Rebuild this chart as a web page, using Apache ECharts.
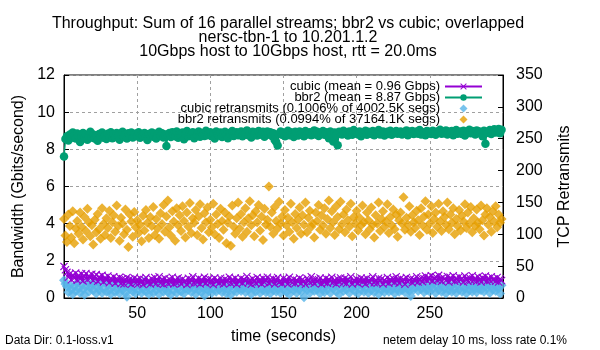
<!DOCTYPE html>
<html lang="en" style="height: 100%">
<head>
  <meta charset="utf-8">
</head>
<body style="height: 100%; margin: 0; background: #fff">
  <div id="container" style="width: 600px; height: 350px"></div>

  <script type="text/javascript" src="https://cdn.jsdelivr.net/npm/echarts@6.0.0/dist/echarts.min.js"></script>
  <script type="text/javascript">
// throughput (Gbps), one sample per second
var cubicGbps = [
  1.70,1.52,1.38,1.12,1.30,0.98,1.24,1.06,1.34,0.96, 1.22,1.02,1.30,0.92,1.18,1.32,0.98,1.20,1.06,1.28,
  0.94,1.16,1.26,0.90,1.14,1.00,1.22,0.86,1.10,0.96, 1.18,0.82,1.06,0.94,1.14,0.80,1.04,0.90,1.12,0.78,
  1.04,0.76,0.98,1.10,0.84,1.02,0.74,0.96,1.08,0.80, 1.00,0.78,1.06,0.88,0.72,0.98,1.10,0.82,0.94,0.76,
  1.04,0.86,1.10,0.78,0.96,1.14,0.80,1.00,0.74,1.06, 0.90,0.78,1.02,0.84,1.12,0.76,0.98,0.82,1.08,0.90,
  0.76,1.02,0.86,0.94,0.72,1.06,0.82,0.98,1.14,0.80, 0.96,0.84,1.06,0.76,1.00,0.88,1.12,0.80,0.92,1.04,
  0.84,0.98,0.72,1.08,0.88,0.96,0.80,1.06,0.90,0.76, 1.02,0.86,0.94,1.12,0.80,1.00,0.84,1.08,0.74,0.96,
  0.88,1.06,0.80,1.00,0.92,1.16,0.82,0.96,0.74,1.04, 0.90,0.80,1.10,0.86,1.00,0.76,1.06,0.84,0.96,1.12,
  0.80,1.00,0.88,1.04,0.76,0.96,1.10,0.84,0.92,0.78, 1.06,0.88,1.00,0.76,1.12,0.90,0.82,1.02,0.80,0.96,
  0.88,1.08,0.78,1.00,0.90,0.74,1.06,0.94,0.84,1.14, 0.90,0.78,1.02,0.88,0.98,1.08,0.76,0.96,0.84,1.06,
  0.80,1.00,0.90,1.12,0.84,0.96,0.76,1.02,0.88,1.08, 0.96,0.84,1.06,0.78,1.00,0.90,1.14,0.76,0.96,0.88,
  1.02,0.80,0.96,1.08,0.86,1.00,0.76,1.06,0.92,0.84, 1.00,1.14,0.82,0.96,0.80,1.06,0.92,1.02,0.76,0.96,
  0.86,1.10,0.80,1.00,0.90,1.04,0.84,1.14,0.96,0.80, 1.06,0.92,1.00,0.74,1.10,0.88,0.96,1.04,0.82,1.00,
  0.92,1.14,0.86,1.00,1.08,0.88,1.04,1.18,0.94,1.10, 1.00,1.20,0.92,1.06,1.14,0.96,1.22,1.02,0.90,1.12,
  1.02,0.94,1.16,0.86,1.10,0.98,1.20,0.90,1.06,0.94, 1.14,0.98,1.06,0.86,1.18,1.02,0.90,1.10,0.96,1.20,
  0.94,1.06,0.90,1.14,1.00,0.86,1.10,0.98,1.18,0.90, 1.06,0.94,1.14,0.98,1.02,0.90,1.10,0.86,1.02,0.94
];
var bbr2Gbps = [
  7.62,8.55,8.70,8.48,8.80,8.62,8.90,8.75,8.58,8.85, 8.72,8.40,8.66,8.88,8.60,8.78,8.52,8.70,8.95,8.64,
  8.80,8.58,8.74,8.46,8.82,8.68,8.90,8.62,8.76,8.55, 8.84,8.70,8.92,8.60,8.78,8.66,8.88,8.74,8.52,8.82,
  8.95,8.68,8.80,8.58,8.86,8.72,8.90,8.64,8.78,8.84, 8.70,8.92,8.62,8.80,8.74,8.88,8.66,8.50,8.82,8.76,
  8.90,8.68,8.84,8.58,8.78,8.94,8.72,8.86,8.64,8.80, 8.18,8.74,8.88,8.66,8.92,8.80,8.70,8.96,8.62,8.84,
  8.76,8.90,8.54,8.82,8.98,8.70,8.86,8.74,8.92,8.60, 8.84,8.78,8.96,8.68,8.88,8.80,8.72,9.00,8.76,8.86,
  8.92,8.70,8.84,8.58,8.96,8.80,8.74,8.90,8.66,8.86, 8.94,8.78,8.60,8.88,8.82,8.98,8.72,8.84,8.92,8.76,
  8.86,8.96,8.70,8.90,8.80,9.02,8.76,8.88,8.64,8.94, 8.82,8.90,8.74,8.98,8.86,8.78,8.94,8.68,8.88,8.96,
  8.80,8.92,8.72,8.86,8.50,8.40,8.20,8.84,8.96,8.78, 8.90,8.70,8.86,9.00,8.76,8.92,8.82,8.66,8.94,8.88,
  8.74,8.96,8.84,8.90,8.70,8.98,8.80,8.88,8.92,8.76, 8.86,9.02,8.80,8.94,8.72,8.90,8.84,8.98,8.78,8.92,
  8.88,8.60,8.96,8.82,8.42,8.90,8.76,8.22,8.94,8.86, 8.80,9.00,8.84,8.92,8.74,8.96,8.88,8.78,9.04,8.86,
  8.92,8.80,8.96,8.70,8.90,8.84,9.00,8.78,8.94,8.88, 8.82,8.98,8.76,8.92,8.86,9.04,8.80,8.90,8.96,8.74,
  8.88,8.94,8.82,9.00,8.78,8.92,8.86,8.98,8.84,8.90, 8.96,8.80,8.92,8.88,9.02,8.76,8.94,8.86,8.98,8.82,
  8.90,8.96,8.84,9.04,8.80,8.92,8.88,8.76,8.98,8.86, 8.94,8.82,9.00,8.88,8.78,8.96,8.90,9.06,8.84,8.92,
  8.86,9.02,8.80,8.94,8.88,8.98,8.76,8.92,9.04,8.84, 8.90,8.96,8.82,9.00,8.74,8.94,8.88,9.06,8.86,8.98,
  8.92,8.80,9.02,8.88,8.96,8.84,8.70,9.00,8.30,8.94, 8.88,9.04,8.82,8.96,9.08,8.90,8.98,9.10,8.86,9.06
];
// retransmits per second
var cubicRetrans = [
  28,22,18,9,20,13,6,19,11,24, 15,8,21,14,5,18,25,10,16,22, 12,23,7,17,13,21,8,15,26,10,
  20,12,6,18,24,9,14,22,7,16, 13,21,8,2,18,14,25,10,16,7, 23,12,19,8,14,26,10,17,6,21,
  15,8,22,12,18,6,16,24,10,14, 20,9,16,5,23,12,19,8,15,25, 10,19,7,15,22,13,17,9,21,14,
  6,18,12,24,9,16,4,20,14,11, 19,8,15,22,10,17,13,26,9,16, 21,7,14,18,5,20,12,23,10,16,
  18,11,14,20,9,24,13,17,6,21, 15,10,19,23,8,16,12,25,9,14, 20,7,17,12,22,10,15,21,8,18,
  13,24,9,19,6,15,22,12,17,8, 21,14,10,19,1,17,12,24,8,15, 20,11,23,13,18,7,21,14,9,19,
  13,24,8,18,15,21,10,19,6,23, 16,11,20,13,25,8,17,15,21,10, 18,7,22,13,19,10,16,26,8,18,
  12,21,9,19,15,6,23,12,17,9, 20,15,10,24,12,17,7,21,14,10, 23,12,18,9,20,15,11,3,22,13,
  17,27,11,19,14,22,9,18,12,21, 10,19,15,24,8,18,13,22,10,19, 15,7,23,12,18,10,21,14,8,20,
  13,25,10,17,15,7,21,12,19,10, 17,22,9,15,20,12,24,10,18,16, 21,8,19,13,23,11,17,15,7,20
];
var bbr2Retrans = [
  124,98,88,131,113,95,136,86,109,121, 101,134,112,92,127,105,140,119,97,114,
  84,123,103,132,108,93,141,116,99,125, 110,137,94,119,130,104,145,113,90,126,
  117,100,139,107,80,131,120,96,135,111, 122,102,115,89,129,106,138,118,94,127,
  113,143,99,124,109,93,133,116,146,104, 128,153,111,98,136,120,90,141,114,130,
  105,144,121,95,134,112,149,102,125,118, 138,99,128,147,110,92,133,119,142,103,
  123,111,148,100,131,116,94,140,121,107, 134,86,118,128,82,145,112,101,125,150,
  109,132,96,119,141,104,125,152,114,130, 97,136,119,146,106,128,91,140,115,123,
  175,112,134,101,143,121,109,151,117,128, 98,138,114,126,104,148,119,93,132,110,
  123,142,101,130,115,150,103,126,137,112, 117,95,134,121,146,107,130,114,141,101,
  124,153,110,136,119,99,144,127,108,151, 116,131,103,139,122,112,148,97,127,117,
  137,106,126,114,145,119,100,134,122,108, 142,115,95,130,117,150,105,124,136,112,
  120,147,102,127,114,139,108,131,96,122, 134,117,158,107,126,115,144,104,130,119,
  110,137,122,99,141,114,128,152,107,131, 117,144,102,124,134,112,148,120,105,136,
  127,115,150,108,131,118,141,100,124,113, 138,106,129,120,147,110,134,117,143,103,
  125,113,139,118,108,145,122,98,131,141, 115,127,104,136,120,144,111,131,118,124
];
var seriesNames = [
  'cubic (mean = 0.96 Gbps)',
  'bbr2 (mean = 8.87 Gbps)',
  'cubic retransmits (0.1006% of 4002.5K segs)',
  'bbr2 retransmits (0.0994% of 37164.1K segs)'
];

// pair each sample with its second
function pairs(arr) {
  return arr.map(function (v, i) { return [i, v]; });
}

var xMark = 'path://M0,1L1,0L5,4L9,0L10,1L6,5L10,9L9,10L5,6L1,10L0,9L4,5Z';
var diamond = 'path://M5,0L10,5L5,10L0,5Z';
var font = 'Liberation Sans, Arial, sans-serif';

var myChart = echarts.init(document.getElementById('container'), null, { renderer: 'canvas' });

var option = {
  animation: false,
  backgroundColor: '#fff',
  textStyle: { fontFamily: font, color: '#000' },
  title: {
    text: 'Throughput: Sum of 16 parallel streams; bbr2 vs cubic; overlapped\nnersc-tbn-1 to 10.201.1.2\n10Gbps host to 10Gbps host, rtt = 20.0ms',
    left: 283,
    top: 12,
    textAlign: 'center',
    textStyle: { fontSize: 16, fontWeight: 'normal', lineHeight: 13.7, fontFamily: font, color: '#000' }
  },
  legend: {
    orient: 'vertical',
    right: 112,
    top: 75,
    align: 'right',
    itemWidth: 37,
    itemHeight: 8,
    itemGap: -2,
    textStyle: { fontSize: 13, fontFamily: font, color: '#000' },
    data: seriesNames
  },
  grid: {
    left: 64, right: 97, top: 75, bottom: 49,
    show: true, borderColor: '#000', borderWidth: 1
  },
  xAxis: {
    type: 'value',
    min: 0, max: 300, interval: 50,
    name: 'time (seconds)',
    nameLocation: 'middle',
    nameGap: 31,
    nameTextStyle: { fontSize: 16, fontFamily: font, color: '#000' },
    axisLine: { lineStyle: { color: '#000' } },
    axisTick: { inside: true, length: 5, lineStyle: { color: '#000' } },
    axisLabel: { showMinLabel: false, showMaxLabel: false, fontSize: 16, margin: 8, color: '#000' },
    splitLine: { show: true, lineStyle: { color: '#a0a0a0', type: [3, 3] } }
  },
  yAxis: [
    {
      type: 'value',
      min: 0, max: 12, interval: 2,
      name: 'Bandwidth (Gbits/second)',
      nameLocation: 'middle',
      nameGap: 37,
      nameTextStyle: { fontSize: 16, fontFamily: font, color: '#000' },
      axisLine: { show: true, lineStyle: { color: '#000' } },
      axisTick: { show: true, inside: true, length: 5, lineStyle: { color: '#000' } },
      axisLabel: { fontSize: 16, margin: 9, color: '#000' },
      splitLine: { show: true, lineStyle: { color: '#a0a0a0', type: [3, 3] } }
    },
    {
      type: 'value',
      min: 0, max: 350, interval: 50,
      name: 'TCP Retransmits',
      nameLocation: 'middle',
      nameGap: 54,
      nameTextStyle: { fontSize: 16, fontFamily: font, color: '#000' },
      axisLine: { show: true, lineStyle: { color: '#000' } },
      axisTick: { show: true, inside: true, length: 5, lineStyle: { color: '#000' } },
      axisLabel: { fontSize: 16, margin: 13, color: '#000' },
      splitLine: { show: false }
    }
  ],
  series: [
    {
      name: seriesNames[0], type: 'line', data: pairs(cubicGbps),
      color: '#9400d3', symbol: xMark, symbolSize: 8, symbolKeepAspect: true,
      lineStyle: { width: 1.5 }
    },
    {
      name: seriesNames[1], type: 'line', data: pairs(bbr2Gbps),
      color: '#009e73', symbol: 'circle', symbolSize: 8.5,
      lineStyle: { width: 1.5 }
    },
    {
      name: seriesNames[2], type: 'scatter', yAxisIndex: 1, data: pairs(cubicRetrans),
      color: '#56b4e9', symbol: diamond, symbolSize: 10, symbolKeepAspect: true
    },
    {
      name: seriesNames[3], type: 'scatter', yAxisIndex: 1, data: pairs(bbr2Retrans),
      color: '#e69f00', symbol: diamond, symbolSize: 10, symbolKeepAspect: true
    }
  ],
  graphic: [
    { type: 'text', left: 5, top: 335, style: { text: 'Data Dir: 0.1-loss.v1', fontSize: 12, fontFamily: font, fill: '#000' } },
    { type: 'text', right: 33, top: 335, style: { text: 'netem delay 10 ms, loss rate 0.1%', fontSize: 12, fontFamily: font, fill: '#000' } }
  ]
};

myChart.setOption(option);
window.addEventListener('resize', myChart.resize);
  </script>
</body>
</html>
